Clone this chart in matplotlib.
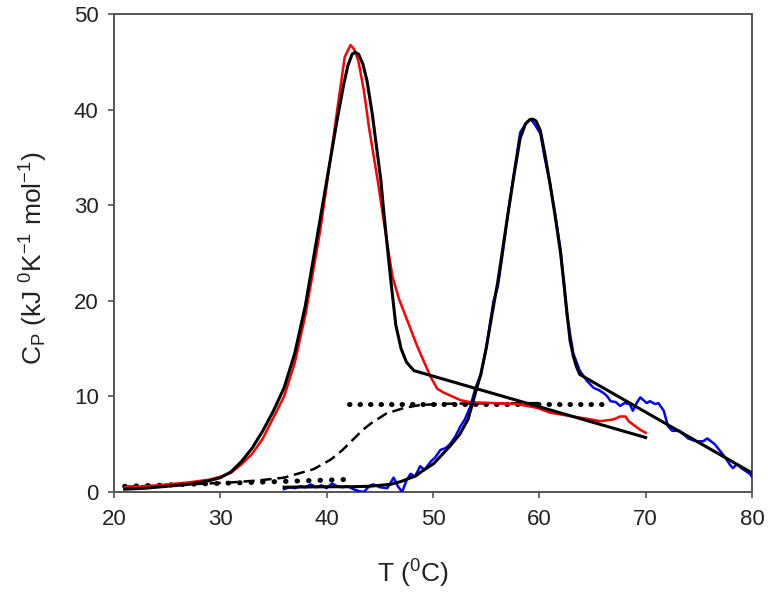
import matplotlib
matplotlib.use("Agg")
import matplotlib.pyplot as plt
import numpy as np

plt.rcParams['font.family'] = ['Liberation Sans', 'DejaVu Sans']
plt.rcParams['mathtext.default'] = 'regular'

# Red experimental trace (peak 1)
red_T = [21, 23, 25, 27, 29, 30, 31, 32, 33, 34, 35, 36, 37, 38, 39, 39.4, 40, 41, 41.7, 42.25,
         42.6, 43, 43.5, 44, 44.8, 45.5, 46.2, 46.8, 47.6, 48.5, 49.2, 49.8, 50.4, 51, 51.6, 52.6,
         53.5, 55.7, 57.9, 59.8, 61, 62.6, 64.8, 65.7, 67, 67.6, 68.1, 68.4, 69, 69.5, 70]
red_Cp = [0.5, 0.6, 0.8, 1.0, 1.3, 1.6, 2.0, 2.9, 4.0, 5.6, 7.8, 10.0, 13.5, 18.5, 24.8, 27.4, 32, 40, 45.5, 46.75,
          46.3, 45, 42, 38, 32.6, 27.4, 22.5, 20.2, 17.9, 15.3, 13.5, 12.0, 10.8, 10.4, 10.1, 9.6,
          9.4, 9.3, 9.2, 8.8, 8.3, 8.0, 7.6, 7.4, 7.6, 7.9, 7.9, 7.4, 6.9, 6.5, 6.2]

# Black fit of peak 1
fit1_T = [21, 23, 25, 27, 29, 30, 31, 32, 33, 34, 35, 36, 37, 38, 39, 40, 41, 41.6, 42.0, 42.4, 42.7,
          43.0, 43.4, 43.8, 44.3, 45.1, 45.4, 46, 46.5, 47, 47.5, 48.2, 70]
fit1_Cp = [0.3, 0.4, 0.6, 0.8, 1.2, 1.5, 2.1, 3.2, 4.6, 6.4, 8.5, 10.9, 14.5, 19.5, 26, 32.5, 39, 42.6, 44.6, 45.8, 46.0,
           45.8, 44.8, 43, 39.5, 32.6, 29, 22.5, 17.5, 15, 13.6, 12.7, 5.7]

# Blue experimental trace (peak 2)
blue_T = [36, 36.5, 37, 37.5, 38, 38.5, 39, 39.5, 40, 40.5, 41, 41.5, 42, 42.5, 43, 43.5, 44, 44.4,
          45, 45.7, 46.3, 46.7, 47.1, 47.5, 47.9, 48.3, 48.8, 49.2, 49.8, 50.2, 50.7, 51.2, 51.6, 52.1,
          52.6, 53.0, 53.5, 54, 54.5, 55, 55.7, 56.1, 56.5, 57, 57.5, 58.2, 58.7, 59.2, 59.6, 60.1, 60.5,
          61, 61.5, 62, 62.6, 63.2, 63.8, 64.5, 65.1, 65.7, 66.1, 66.4, 66.7, 67.2, 67.6, 68.0, 68.5,
          68.8, 69.2, 69.5, 69.8, 70.1, 70.4, 70.9, 71.2, 71.7, 72.1, 72.5, 73.2, 73.6, 74.0, 74.8,
          75.4, 75.8, 76.5, 77.0, 77.5, 77.9, 78.2, 78.6, 79.0, 79.4, 79.8, 80]
blue_Cp = [0.3, 0.5, 0.4, 0.6, 0.5, 0.8, 0.5, 0.7, 0.4, 0.9, 0.6, 0.5, 0.6, 0.3, 0.1, 0.0, 0.6, 0.8,
           0.5, 0.4, 1.5, 0.6, 0.0, 1.2, 1.9, 1.6, 2.7, 2.3, 3.2, 3.6, 4.4, 4.6, 5.0, 5.8,
           6.9, 7.6, 8.9, 10.9, 12.3, 15, 20, 21.5, 24.5, 28.7, 32.5, 37.6, 38.5, 39.0, 38.4, 37.5, 35,
           32.3, 29, 25.3, 18.5, 14.5, 12.7, 11.6, 10.9, 10.6, 10.3, 10.0, 9.5, 9.4, 9.0, 9.3, 9.2,
           8.5, 9.4, 9.9, 9.6, 9.3, 9.5, 9.2, 9.3, 8.5, 6.9, 6.4, 6.4, 6.0, 5.6, 5.3,
           5.3, 5.6, 5.0, 4.3, 3.6, 2.9, 2.5, 2.9, 2.5, 2.2, 1.9, 1.6]

# Black fit of peak 2
fit2_T = [36, 40, 42.3, 44, 46, 47, 48.4, 49, 50.1, 51.6, 52.5, 53.3, 54.1, 54.5, 55, 55.7, 56.1, 57,
          57.6, 58.2, 58.7, 59.1, 59.4, 59.7, 60.1, 60.5, 61.0, 61.5, 62.0, 62.3, 62.6, 62.9, 63.2, 63.5,
          63.8, 80]
fit2_Cp = [0.5, 0.55, 0.55, 0.6, 0.8, 1.1, 1.7, 2.2, 3.0, 4.8, 6.0, 7.6, 10.8, 12.3, 15.0, 19.5, 22, 28.7,
           33, 37.0, 38.5, 38.95, 39.0, 38.8, 37.8, 35.5, 32.3, 28.8, 25, 22, 18.8, 15.8, 14.2, 13.1,
           12.3, 2.0]

# Dashed progress baseline
dash_T = [21, 25, 29, 31, 33.5, 36, 38.8, 40.4, 41.5, 42.5, 43.4, 44.2, 45.6, 47.3, 48.8, 50.5, 52, 60]
dash_Cp = [0.55, 0.7, 0.9, 1.0, 1.2, 1.5, 2.4, 3.4, 4.4, 5.5, 6.5, 7.2, 8.2, 8.8, 9.1, 9.2, 9.25, 9.3]

# Dotted baselines
dot_low_T = [21, 41.6]
dot_low_Cp = [0.6, 1.3]
dot_high_T = [42.1, 66.3]
dot_high_Cp = [9.25, 9.25]

fig = plt.figure(figsize=(7.68, 5.95), dpi=100)
ax = fig.add_axes([0.1484, 0.1731, 0.8307, 0.8034])

ax.plot(dot_low_T, dot_low_Cp, color='black', lw=3.6, linestyle=(0, (0.1, 2.2)),
        dash_capstyle='round', zorder=2)
ax.plot(dot_high_T, dot_high_Cp, color='black', lw=3.6, linestyle=(0, (0.1, 2.0)),
        dash_capstyle='round', zorder=2)
ax.plot(dash_T, dash_Cp, color='black', lw=1.8, linestyle=(0, (4.5, 2.3)), zorder=2)
ax.plot(red_T, red_Cp, color='#ff0000', lw=1.8, zorder=3)
ax.plot(blue_T, blue_Cp, color='#0000ff', lw=1.8, zorder=3)
ax.plot(fit1_T, fit1_Cp, color='black', lw=2.2, zorder=4, solid_joinstyle='round')
ax.plot(fit2_T, fit2_Cp, color='black', lw=2.2, zorder=4, solid_joinstyle='round')

ax.set_xlim(20, 80)
ax.set_ylim(0, 50)
ax.set_xticks([20, 30, 40, 50, 60, 70, 80])
ax.set_yticks([0, 10, 20, 30, 40, 50])
for s in ax.spines.values():
    s.set_color('#555555')
    s.set_linewidth(1.4)
ax.tick_params(direction='out', length=4, width=1.2, color='#555555', labelsize=16,
               labelcolor='#222222')
ax.tick_params(axis='x', pad=8)
ax.tick_params(axis='y', pad=7)

ax.set_xlabel('T ($^0$C)', fontsize=19, color='#222222')
ax.xaxis.set_label_coords(0.469, -0.137)
ax.set_ylabel('C$_P$ (kJ $^0$K$^{-1}$ mol$^{-1}$)', fontsize=19, color='#222222')
ax.yaxis.set_label_coords(-0.10, 0.49)

fig.savefig('out.png', dpi=100)
